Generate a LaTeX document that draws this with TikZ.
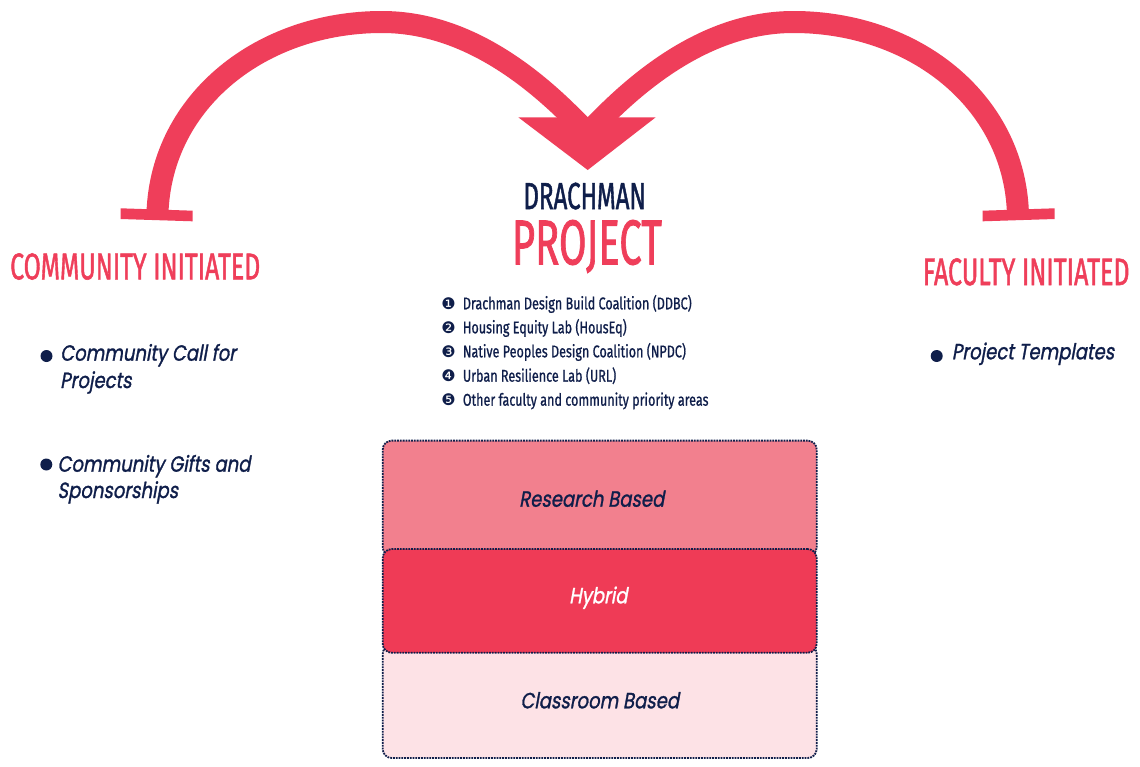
\documentclass[tikz,border=0pt]{standalone}
\usepackage{fontspec}
\usepackage{graphicx}
\newfontfamily\headfont[FakeBold=1.6]{Fira Sans}
\newfontfamily\listfont[FakeStretch=0.74,FakeBold=0.8]{Fira Sans}
\newfontfamily\itfont[FakeStretch=0.82,FakeSlant=0.18,FakeBold=1.2]{Poppins}
\newfontfamily\dingfont{DejaVu Sans}
\definecolor{brand}{HTML}{EF3E5A}
\definecolor{navy}{HTML}{0F1E4A}
\definecolor{research}{HTML}{F2808E}
\definecolor{hybrid}{HTML}{EF3B56}
\definecolor{classroom}{HTML}{FDE2E6}
\tikzset{
  arcline/.style={draw=brand, line width=22pt, line cap=butt},
  headtxt/.style={anchor=base west, inner sep=0pt},
  listtxt/.style={anchor=base west, inner sep=0pt, text=navy, font=\listfont\fontsize{17}{20}\selectfont},
  listnum/.style={anchor=base, inner sep=0pt, text=navy, font=\dingfont\fontsize{16}{18}\selectfont},
  ittxt/.style={anchor=base west, inner sep=0pt, text=navy, font=\itfont\fontsize{22}{26}\selectfont},
  boxtxt/.style={anchor=base, inner sep=0pt, font=\itfont\fontsize{22}{26}\selectfont},
  dot/.style={circle, fill=navy, inner sep=0pt, minimum size=12pt},
  tierbox/.style={draw=navy, densely dotted, line width=1.8pt, rounded corners=9pt, minimum width=434pt, inner sep=0pt},
}
\begin{document}
\begin{tikzpicture}[x=1pt,y=-1pt]
\useasboundingbox (0,0) rectangle (1140,766);
\fill[white] (0,0) rectangle (1140,766);

% key points of the arrows
\coordinate (lfoot) at (157.5,212);
\coordinate (rfoot) at (1017.9,212);
\coordinate (lend) at (572,117);
\coordinate (rend) at (603.4,117);
\coordinate (lin) at (585,130);
\coordinate (rin) at (590.4,130);

% arcs
\draw[arcline] (lfoot) .. controls (162,100) and (262,22) .. (382,22)
   .. controls (460,22) and (525,70) .. (lend) -- (lin);
\draw[arcline] (rin) -- (rend) .. controls (650.4,70) and (715.4,22) .. (793.4,22)
   .. controls (913.4,22) and (1013.4,100) .. (rfoot);
% arrowhead
\fill[brand] (518.3,117.3) coordinate (hl) -- (655.7,117.3) coordinate (hr) -- (587.7,170) coordinate (tip) -- cycle;
% tee bars
\fill[brand] (120.7,208.3) -- (192.7,210.7) -- (192.7,221.3) -- (120.7,219) -- cycle;
\fill[brand] (1054.7,208.3) -- (982.7,210.7) -- (982.7,221.3) -- (1054.7,219) -- cycle;

% headings
\node[headtxt, text=navy] (drach) at (523.3,209) {\resizebox{122.4pt}{26.3pt}{\headfont DRACHMAN}};
\node[headtxt, text=brand] (proj) at (511.7,264.3) {\resizebox{150pt}{44.3pt}{\headfont PROJECT}};
\node[headtxt, text=brand] (comm) at (10,279.3) {\resizebox{250pt}{26pt}{\headfont COMMUNITY INITIATED}};
\node[headtxt, text=brand] (fac) at (922.7,285) {\resizebox{206.6pt}{26.7pt}{\headfont FACULTY INITIATED}};

% numbered list
\node[listnum] (n1) at (448.5,309.3) {❶};
\node[listtxt] (t1) at (462.7,309.3) {Drachman Design Build Coalition (DDBC)};
\node[listnum] (n2) at (448.5,333.3) {❷};
\node[listtxt] (t2) at (462.7,333.3) {Housing Equity Lab (HousEq)};
\node[listnum] (n3) at (448.5,357.3) {❸};
\node[listtxt] (t3) at (462.7,357.3) {Native Peoples Design Coalition (NPDC)};
\node[listnum] (n4) at (448.5,381.7) {❹};
\node[listtxt] (t4) at (462.7,381.7) {Urban Resilience Lab (URL)};
\node[listnum] (n5) at (448.5,405.7) {❺};
\node[listtxt] (t5) at (462.7,405.7) {Other faculty and community priority areas};

% left bullets
\node[dot] (b1) at (46.5,356) {};
\node[ittxt] (c1a) at (60,360.7) {Community Call for};
\node[ittxt] (c1b) at (60,388) {Projects};
\node[dot] (b2) at (46.3,464.5) {};
\node[ittxt] (c2a) at (57.3,471.7) {Community Gifts and};
\node[ittxt] (c2b) at (57.3,498) {Sponsorships};

% right bullet
\node[dot] (b3) at (936.7,356) {};
\node[ittxt] (f1) at (951.7,359.3) {Project Templates};

% tiers
\node[tierbox, fill=research, minimum height=115.6pt] (rb) at (599.7,498.4) {};
\node[tierbox, fill=classroom, minimum height=113pt] (cb) at (599.7,701.5) {};
\node[tierbox, fill=hybrid, minimum height=103.7pt] (hb) at (599.7,600.9) {};
\node[boxtxt, text=navy] (rt) at (591.7,506.7) {Research Based};
\node[boxtxt, text=white] (ht) at (598.3,603.3) {Hybrid};
\node[boxtxt, text=navy] (ct) at (599.7,708.3) {Classroom Based};
\end{tikzpicture}
\end{document}
